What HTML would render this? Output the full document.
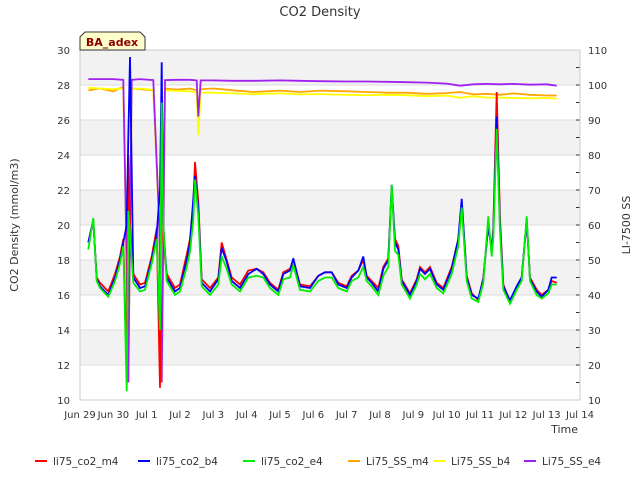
<!DOCTYPE html>
<html><head><meta charset="utf-8"><style>
body{margin:0;background:#fff;font-family:"Liberation Sans","DejaVu Sans",sans-serif}
svg text{font-family:"DejaVu Sans","Liberation Sans",sans-serif}
</style></head><body>
<svg id="chart" width="640" height="480" viewBox="0 0 640 480" xmlns="http://www.w3.org/2000/svg">
<rect width="640" height="480" fill="#fff"/>
<text x="320" y="16" text-anchor="middle" font-size="13" fill="#333">CO2 Density</text>
<g id="bands"></g><g id="grid"></g><g id="series"></g><g id="axes"></g>
<text transform="translate(18,225) rotate(-90)" text-anchor="middle" font-size="11" fill="#333">CO2 Density (mmol/m3)</text>
<text transform="translate(630,225) rotate(-90)" text-anchor="middle" font-size="11" fill="#333">LI-7500 SS</text>
<text x="578" y="433" text-anchor="end" font-size="11" fill="#333">Time</text>
<g>
<path d="M85,32 L140,32 L145,37 L145,50 L80,50 L80,37 Z" fill="#ffffcc" stroke="#333" stroke-width="1"/>
<text x="112" y="46" text-anchor="middle" font-size="11" font-weight="bold" fill="#8b0000">BA_adex</text>
</g>
<g id="legend"></g>
</svg>
<script>
const xTickLabels=["Jun 29","Jun 30","Jul 1","Jul 2","Jul 3","Jul 4","Jul 5","Jul 6","Jul 7","Jul 8","Jul 9","Jul 10","Jul 11","Jul 12","Jul 13","Jul 14"];
const yTicks=[10,12,14,16,18,20,22,24,26,28,30];
const y2Ticks=[10,20,30,40,50,60,70,80,90,100,110];
const times=[0.25,0.4,0.5,0.6,0.85,1.05,1.2,1.3,1.4,1.45,1.5,1.6,1.8,1.95,2.15,2.3,2.4,2.45,2.5,2.6,2.85,3.0,3.2,3.3,3.4,3.45,3.55,3.65,3.9,4.15,4.25,4.4,4.55,4.8,5.05,5.3,5.5,5.7,5.95,6.1,6.3,6.4,6.6,6.9,7.15,7.35,7.55,7.75,8.0,8.15,8.35,8.5,8.6,8.75,8.95,9.1,9.25,9.35,9.45,9.55,9.65,9.9,10.1,10.2,10.35,10.5,10.7,10.9,11.15,11.35,11.45,11.6,11.75,11.95,12.1,12.25,12.35,12.4,12.5,12.6,12.7,12.9,13.1,13.25,13.4,13.5,13.7,13.85,14.05,14.15,14.3];
const co2M4=[19,20.2,17,16.7,16.2,17.2,18.2,19.2,11.8,24,20,17.2,16.6,16.7,18.2,19.8,10.7,27,19,17.2,16.4,16.6,18.3,19.2,21.2,23.6,21.3,16.9,16.4,17,19,18,17,16.6,17.4,17.5,17.3,16.7,16.3,17.3,17.5,18,16.6,16.5,17.1,17.3,17.3,16.7,16.5,17.1,17.4,18,17.1,16.8,16.4,17.6,18.1,22,19.2,18.8,16.9,16.1,16.9,17.6,17.3,17.6,16.7,16.4,17.6,19.2,21.3,17.1,16.1,15.7,17,20,18.6,19.8,27.6,20.4,16.6,15.6,16.5,17,20.3,17,16.3,16,16.3,16.8,16.7];
const co2B4=[19,20.3,16.9,16.5,16,17,18,19,20,25,29.6,17,16.4,16.5,18,19.5,22,29.3,20,17,16.2,16.4,18,19,21.5,22.8,21,16.7,16.2,16.9,18.7,17.9,16.8,16.4,17.2,17.5,17.2,16.6,16.2,17.2,17.4,18.1,16.5,16.4,17.1,17.3,17.3,16.6,16.4,17,17.4,18.2,17,16.7,16.2,17.5,18,22.3,19,18.6,16.8,16,16.8,17.5,17.2,17.5,16.6,16.3,17.5,19.2,21.5,17,16,15.8,16.9,20,18.5,19.6,26.2,20,16.5,15.7,16.5,17,20.3,16.9,16.2,15.9,16.3,17,17];
const co2E4=[18.6,20.4,16.8,16.4,15.9,16.8,17.8,18.8,10.5,20.8,19.5,16.7,16.2,16.3,17.8,19.2,14,27,20,16.8,16,16.2,17.6,18.5,20.3,22.6,20.5,16.5,16,16.6,18.2,17.5,16.6,16.2,17,17.1,17,16.4,16,16.9,17,17.7,16.3,16.2,16.8,17,17,16.4,16.2,16.8,17,17.6,16.8,16.5,16,17.1,17.6,22.3,18.5,18.3,16.6,15.8,16.6,17.2,16.9,17.2,16.4,16.1,17.2,18.8,21,16.8,15.8,15.6,16.7,20.5,18.2,19.2,25.5,19.6,16.3,15.5,16.3,16.8,20.5,16.8,16,15.8,16.1,16.6,16.6];
const ssTimes=[0.25,0.6,1.0,1.3,1.38,1.45,1.55,1.8,2.2,2.38,2.45,2.55,2.9,3.3,3.5,3.55,3.62,4.0,4.6,5.2,6.0,6.6,7.2,8.0,8.6,9.2,9.8,10.4,11.0,11.4,11.8,12.2,12.6,13.0,13.5,14.0,14.3];
const ssM4=[98.5,99,98.2,99.5,60,15,99,98.8,98.5,60,15,99,98.7,99,98.5,92,98.8,99,98.5,98,98.4,98,98.4,98.2,98,97.8,97.8,97.5,97.7,98,97.3,97.5,97.2,97.6,97.2,97,97];
const ssB4=[99.2,99,98.8,99,60,15,98.8,99,98.6,60,15,98.5,98.3,98.2,97.8,85.7,97.8,97.8,97.6,97.4,97.6,97.3,97.4,97.2,97.1,97.2,97.1,96.8,97,96.3,96.8,96.4,96.4,96.3,96.2,96.3,96.1];
const ssE4=[101.7,101.7,101.7,101.5,60,15,101.5,101.7,101.4,60,15,101.4,101.5,101.5,101.3,91,101.3,101.3,101.2,101.2,101.3,101.2,101.1,101,101,100.9,100.8,100.7,100.4,99.8,100.2,100.3,100.2,100.3,100.1,100.2,99.8];
const L=80,R=580,T=50,B=400;
const X=t=>L+t*(R-L)/15, Y=v=>B-(v-10)*(B-T)/20, Y2=v=>B-(v-10)*(B-T)/100;
const NS="http://www.w3.org/2000/svg";
function mk(tag,parent){const e=document.createElementNS(NS,tag);document.getElementById(parent).appendChild(e);return e;}
for(let i=0;i<yTicks.length-1;i++){
 if(i%2===1){const r=mk('rect','bands');r.setAttribute('x',L);r.setAttribute('y',Y(yTicks[i+1]));r.setAttribute('width',R-L);r.setAttribute('height',Y(yTicks[i])-Y(yTicks[i+1]));r.setAttribute('fill','#f2f2f2');
 
 }
}
yTicks.forEach(v=>{const l=mk('line','grid');l.setAttribute('x1',L);l.setAttribute('x2',R);l.setAttribute('y1',Y(v));l.setAttribute('y2',Y(v));l.setAttribute('stroke','#ddd');


const t=mk('text','axes');t.setAttribute('x',L-10);t.setAttribute('y',Y(v)+4);t.setAttribute('text-anchor','end');t.setAttribute('font-size','10');t.setAttribute('fill','#333');t.textContent=v;

});
y2Ticks.forEach((v,i)=>{const t=mk('text','axes');t.setAttribute('x',R+8);t.setAttribute('y',Y2(v)+4);t.setAttribute('font-size','10');t.setAttribute('fill','#333');t.textContent=v;


const tk=mk('line','axes');tk.setAttribute('x1',R);tk.setAttribute('x2',R-4);tk.setAttribute('y1',Y2(v));tk.setAttribute('y2',Y2(v));tk.setAttribute('stroke','#333');


if(i<y2Ticks.length-1){const m=mk('line','axes');m.setAttribute('x1',R);m.setAttribute('x2',R-4);m.setAttribute('y1',Y2(v+5));m.setAttribute('y2',Y2(v+5));m.setAttribute('stroke','#333');

}});
xTickLabels.forEach((s,i)=>{const t=mk('text','axes');t.setAttribute('x',X(i));t.setAttribute('y',B+18);t.setAttribute('text-anchor','middle');t.setAttribute('font-size','10');t.setAttribute('fill','#333');t.textContent=s;

});
const fr=mk('rect','axes');fr.setAttribute('x',L);fr.setAttribute('y',T);fr.setAttribute('width',R-L);fr.setAttribute('height',B-T);fr.setAttribute('fill','none');fr.setAttribute('stroke','#ccc');


const cp=mk('clipPath','series');cp.setAttribute('id','clip');const cr=document.createElementNS(NS,'rect');cr.setAttribute('x',L);cr.setAttribute('y',T);cr.setAttribute('width',R-L);cr.setAttribute('height',B-T);cp.appendChild(cr);
function line(ts,vs,yf,color,name){const p=mk('path','series');p.setAttribute('d',ts.map((t,i)=>(i?'L':'M')+X(t).toFixed(1)+','+yf(vs[i]).toFixed(1)).join(''));p.setAttribute('fill','none');p.setAttribute('stroke',color);p.setAttribute('stroke-width','1.8');p.setAttribute('clip-path','url(#clip)');

}
line(ssTimes,ssM4,Y2,'#ffa500','series-li75-ss-m4');
line(ssTimes,ssB4,Y2,'#ffff00','series-li75-ss-b4');
line(ssTimes,ssE4,Y2,'#a020f0','series-li75-ss-e4');
line(times,co2M4,Y,'#ff0000','series-li75-co2-m4');
line(times,co2B4,Y,'#0000ff','series-li75-co2-b4');
line(times,co2E4,Y,'#00ee00','series-li75-co2-e4');
const legendNames=["li75_co2_m4","li75_co2_b4","li75_co2_e4","Li75_SS_m4","Li75_SS_b4","Li75_SS_e4"];
const legendColors=['#ff0000','#0000ff','#00ee00','#ffa500','#ffff00','#a020f0'];
const legendX=[35,138,243,348,433,524];
legendNames.forEach((n,i)=>{const l=mk('line','legend');l.setAttribute('x1',legendX[i]);l.setAttribute('x2',legendX[i]+12);l.setAttribute('y1',461);l.setAttribute('y2',461);l.setAttribute('stroke',legendColors[i]);l.setAttribute('stroke-width','2');


const t=mk('text','legend');t.setAttribute('x',legendX[i]+18);t.setAttribute('y',465);t.setAttribute('font-size','10.5');t.setAttribute('fill','#333');t.textContent=n;

});
</script>
</body></html>
